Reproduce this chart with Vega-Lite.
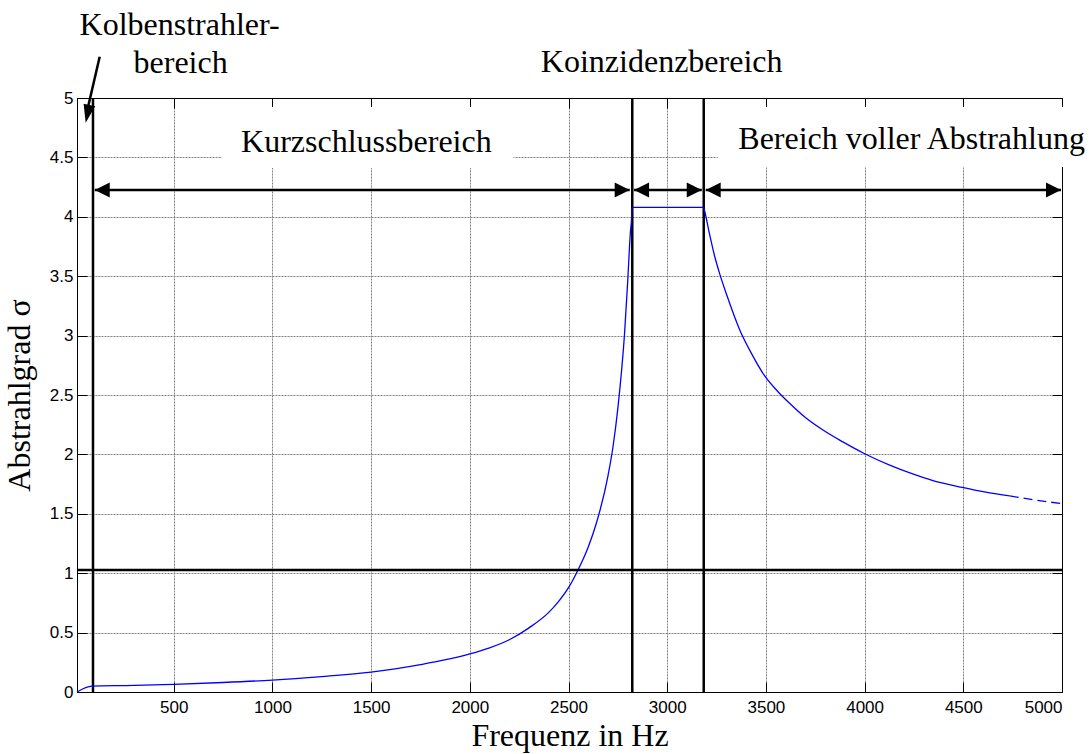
{
  "$schema": "https://vega.github.io/schema/vega-lite/v6.json",
  "width": 985,
  "height": 594,
  "autosize": "none",
  "padding": {"left": 77, "top": 98, "right": 29, "bottom": 62},
  "background": "white",
  "config": {
    "view": {"stroke": null},
    "axis": {
      "domainColor": "black", "domainWidth": 1,
      "tickColor": "black", "tickSize": -10, "tickWidth": 1,
      "labelColor": "black", "labelFont": "Liberation Sans", "labelFontSize": 17,
      "titleColor": "black", "titleFont": "Liberation Serif", "titleFontSize": 32, "titleFontWeight": "normal",
      "gridColor": "#808080", "gridDash": [2, 1], "gridWidth": 1,
      "zindex": 0
    }
  },
  "datasets": {
    "boxes": [
      {"x1": 743, "x2": 2222, "y1": 4.41, "y2": 4.924},
      {"x1": 3256, "x2": 5150, "y1": 4.42, "y2": 4.924}
    ],
    "vlines": [{"f": 91}, {"f": 2823}, {"f": 3185}],
    "hline": [{"s": 1.027}],
    "curve_solid": [
      {"f": 10, "s": 0}, {"f": 85, "s": 0.05}, {"f": 300, "s": 0.055}, {"f": 500, "s": 0.065},
      {"f": 750, "s": 0.08}, {"f": 1000, "s": 0.1}, {"f": 1250, "s": 0.13}, {"f": 1500, "s": 0.168},
      {"f": 1750, "s": 0.23}, {"f": 2000, "s": 0.32}, {"f": 2100, "s": 0.372}, {"f": 2200, "s": 0.44},
      {"f": 2300, "s": 0.54}, {"f": 2400, "s": 0.67}, {"f": 2450, "s": 0.763}, {"f": 2500, "s": 0.878},
      {"f": 2540, "s": 1.0}, {"f": 2600, "s": 1.22}, {"f": 2641, "s": 1.42}, {"f": 2700, "s": 1.82},
      {"f": 2725, "s": 2.06}, {"f": 2750, "s": 2.39}, {"f": 2784, "s": 3.02}, {"f": 2800, "s": 3.46},
      {"f": 2813, "s": 3.86}, {"f": 2820, "s": 4.0}, {"f": 2822, "s": 4.08}, {"f": 3184, "s": 4.08},
      {"f": 3186, "s": 4.07}, {"f": 3215, "s": 3.85}, {"f": 3240, "s": 3.67}, {"f": 3266, "s": 3.52},
      {"f": 3300, "s": 3.35}, {"f": 3367, "s": 3.05}, {"f": 3430, "s": 2.84}, {"f": 3494, "s": 2.66},
      {"f": 3560, "s": 2.53}, {"f": 3620, "s": 2.43}, {"f": 3700, "s": 2.31}, {"f": 3789, "s": 2.205},
      {"f": 3890, "s": 2.105}, {"f": 3995, "s": 2.01}, {"f": 4127, "s": 1.91}, {"f": 4240, "s": 1.838},
      {"f": 4346, "s": 1.78}, {"f": 4495, "s": 1.722}, {"f": 4620, "s": 1.68}, {"f": 4735, "s": 1.65}
    ],
    "curve_dashed": [
      {"f": 4735, "s": 1.65}, {"f": 4870, "s": 1.615}, {"f": 5000, "s": 1.585}
    ],
    "shafts": [
      {"x1": 100, "x2": 2810, "s": 4.225},
      {"x1": 2832, "x2": 3175, "s": 4.225},
      {"x1": 3195, "x2": 4995, "s": 4.225}
    ],
    "heads": [
      {"f": 100, "s": 4.225, "dir": "L"}, {"f": 2810, "s": 4.225, "dir": "R"},
      {"f": 2832, "s": 4.225, "dir": "L"}, {"f": 3175, "s": 4.225, "dir": "R"},
      {"f": 3195, "s": 4.225, "dir": "L"}, {"f": 4995, "s": 4.225, "dir": "R"}
    ],
    "diag": [{"f1": 125, "s1": 5.348, "f2": 57, "s2": 4.86}],
    "diaghead": [{"f": 54, "s": 4.792}],
    "texts": [
      {"t": "Kolbenstrahler-", "f": 530, "s": 5.53},
      {"t": "bereich", "f": 535, "s": 5.21},
      {"t": "Koinzidenzbereich", "f": 2972, "s": 5.219},
      {"t": "Kurzschlussbereich", "f": 1476, "s": 4.547},
      {"t": "Bereich voller Abstrahlung", "f": 4238, "s": 4.571}
    ]
  },
  "resolve": {"axis": {"x": "independent", "y": "independent"}},
  "layer": [
    {
      "data": {"name": "boxes"},
      "mark": {"type": "rect", "color": "white"},
      "encoding": {
        "x": {"field": "x1", "type": "quantitative", "scale": {"domain": [10, 5000], "nice": false, "zero": false},
          "axis": {"orient": "bottom", "values": [500, 1000, 1500, 2000, 2500, 3000, 3500, 4000, 4500, 5000], "format": "d", "title": "Frequenz in Hz", "grid": true, "labelPadding": 17, "titlePadding": 5}},
        "x2": {"field": "x2"},
        "y": {"field": "y1", "type": "quantitative", "scale": {"domain": [0, 5], "nice": false, "zero": false},
          "axis": {"orient": "left", "values": [0, 0.5, 1, 1.5, 2, 2.5, 3, 3.5, 4, 4.5, 5], "format": "~g", "title": "Abstrahlgrad σ", "grid": true, "labelPadding": 14, "titlePadding": 13}},
        "y2": {"field": "y2"}
      }
    },
    {
      "data": {"name": "vlines"},
      "mark": {"type": "rule", "color": "black", "strokeWidth": 2.5},
      "encoding": {
        "x": {"field": "f", "type": "quantitative", "scale": {"domain": [10, 5000], "nice": false, "zero": false},
          "axis": {"orient": "top", "values": [500, 1000, 1500, 2000, 2500, 3000, 3500, 4000, 4500, 5000], "labels": false, "title": null, "grid": false}},
        "y": {"datum": 0, "type": "quantitative", "scale": {"domain": [0, 5], "nice": false, "zero": false},
          "axis": {"orient": "right", "values": [0, 0.5, 1, 1.5, 2, 2.5, 3, 3.5, 4, 4.5, 5], "labels": false, "title": null, "grid": false}},
        "y2": {"datum": 5}
      }
    },
    {
      "data": {"name": "curve_solid"},
      "mark": {"type": "line", "color": "#0000ff", "strokeWidth": 1.3, "interpolate": "monotone"},
      "encoding": {
        "x": {"field": "f", "type": "quantitative", "scale": {"domain": [10, 5000], "nice": false, "zero": false}, "axis": null},
        "y": {"field": "s", "type": "quantitative", "scale": {"domain": [0, 5], "nice": false, "zero": false}, "axis": null}
      }
    },
    {
      "data": {"name": "curve_dashed"},
      "mark": {"type": "line", "color": "#0000ff", "strokeWidth": 1.3, "strokeDash": [9, 5], "interpolate": "monotone"},
      "encoding": {
        "x": {"field": "f", "type": "quantitative", "scale": {"domain": [10, 5000], "nice": false, "zero": false}, "axis": null},
        "y": {"field": "s", "type": "quantitative", "scale": {"domain": [0, 5], "nice": false, "zero": false}, "axis": null}
      }
    },
    {
      "data": {"name": "hline"},
      "mark": {"type": "rule", "color": "black", "strokeWidth": 2.5},
      "encoding": {
        "y": {"field": "s", "type": "quantitative", "scale": {"domain": [0, 5], "nice": false, "zero": false}, "axis": null}
      }
    },
    {
      "data": {"name": "shafts"},
      "mark": {"type": "rule", "color": "black", "strokeWidth": 2.5},
      "encoding": {
        "x": {"field": "x1", "type": "quantitative", "scale": {"domain": [10, 5000], "nice": false, "zero": false}, "axis": null},
        "x2": {"field": "x2"},
        "y": {"field": "s", "type": "quantitative", "scale": {"domain": [0, 5], "nice": false, "zero": false}, "axis": null}
      }
    },
    {
      "data": {"name": "heads"},
      "mark": {"type": "point", "filled": true, "color": "black", "opacity": 1, "size": 900, "strokeWidth": 0},
      "encoding": {
        "x": {"field": "f", "type": "quantitative", "scale": {"domain": [10, 5000], "nice": false, "zero": false}, "axis": null},
        "y": {"field": "s", "type": "quantitative", "scale": {"domain": [0, 5], "nice": false, "zero": false}, "axis": null},
        "shape": {"field": "dir", "type": "nominal", "scale": {"domain": ["L", "R"], "range": ["M0,0L1,-0.5L1,0.5Z", "M0,0L-1,-0.5L-1,0.5Z"]}, "legend": null}
      }
    },
    {
      "data": {"name": "diag"},
      "mark": {"type": "rule", "color": "black", "strokeWidth": 2.5},
      "encoding": {
        "x": {"field": "f1", "type": "quantitative", "scale": {"domain": [10, 5000], "nice": false, "zero": false}, "axis": null},
        "x2": {"field": "f2"},
        "y": {"field": "s1", "type": "quantitative", "scale": {"domain": [0, 5], "nice": false, "zero": false}, "axis": null},
        "y2": {"field": "s2"}
      }
    },
    {
      "data": {"name": "diaghead"},
      "mark": {"type": "point", "filled": true, "color": "black", "opacity": 1, "size": 1296, "strokeWidth": 0, "angle": 102, "shape": "M0,0L-1,-0.33L-1,0.33Z"},
      "encoding": {
        "x": {"field": "f", "type": "quantitative", "scale": {"domain": [10, 5000], "nice": false, "zero": false}, "axis": null},
        "y": {"field": "s", "type": "quantitative", "scale": {"domain": [0, 5], "nice": false, "zero": false}, "axis": null}
      }
    },
    {
      "data": {"name": "texts"},
      "mark": {"type": "text", "font": "Liberation Serif", "fontSize": 32, "color": "black", "align": "center", "baseline": "alphabetic"},
      "encoding": {
        "x": {"field": "f", "type": "quantitative", "scale": {"domain": [10, 5000], "nice": false, "zero": false}, "axis": null},
        "y": {"field": "s", "type": "quantitative", "scale": {"domain": [0, 5], "nice": false, "zero": false}, "axis": null},
        "text": {"field": "t"}
      }
    }
  ]
}
